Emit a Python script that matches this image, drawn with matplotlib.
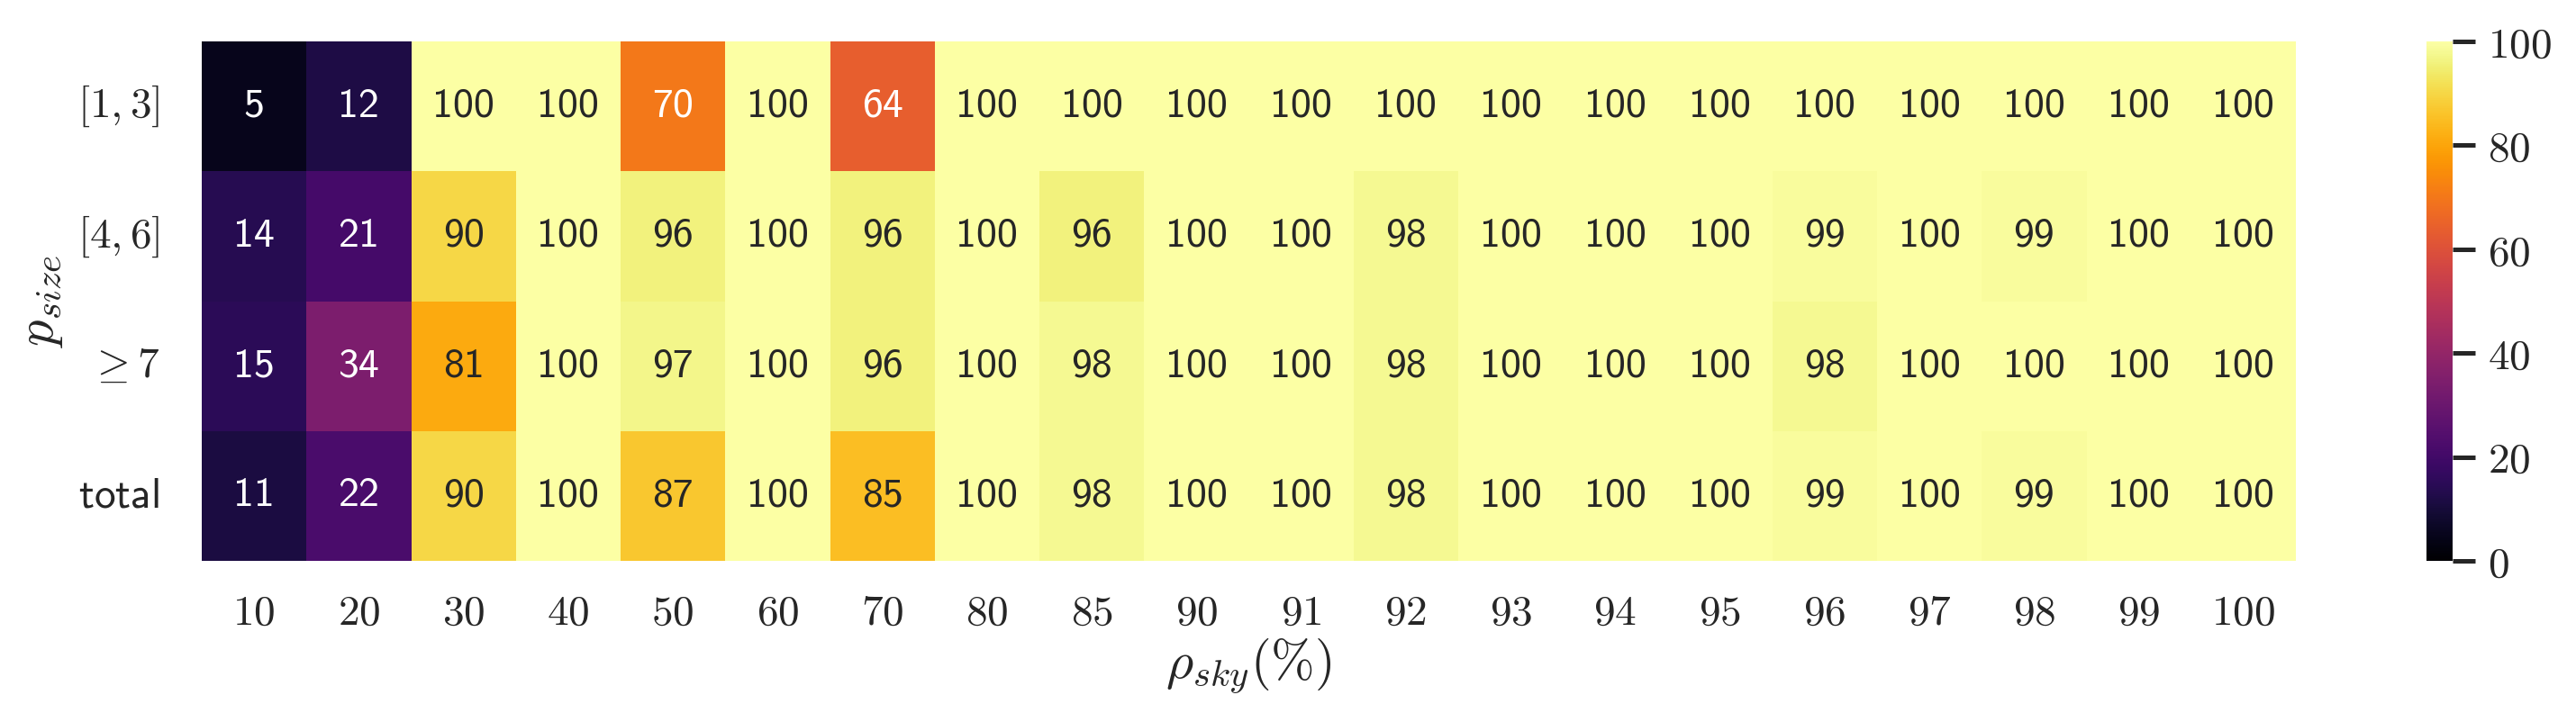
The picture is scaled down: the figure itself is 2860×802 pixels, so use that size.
import numpy as np
import matplotlib
matplotlib.use("Agg")
import matplotlib.pyplot as plt
import seaborn as sns

sns.set_theme(style="white")
plt.rcParams['mathtext.fontset'] = 'cm'
plt.rcParams['font.family'] = ['DejaVu Sans']

x_labels = ["10", "20", "30", "40", "50", "60", "70", "80", "85", "90",
            "91", "92", "93", "94", "95", "96", "97", "98", "99", "100"]
y_labels = [r"$[1,3]$", r"$[4,6]$", r"$\geq 7$", r"$\mathsf{total}$"]

row_1_3 = [5, 12, 100, 100, 70, 100, 64, 100, 100, 100, 100, 100, 100, 100, 100, 100, 100, 100, 100, 100]
row_4_6 = [14, 21, 90, 100, 96, 100, 96, 100, 96, 100, 100, 98, 100, 100, 100, 99, 100, 99, 100, 100]
row_ge7 = [15, 34, 81, 100, 97, 100, 96, 100, 98, 100, 100, 98, 100, 100, 100, 98, 100, 100, 100, 100]
row_total = [11, 22, 90, 100, 87, 100, 85, 100, 98, 100, 100, 98, 100, 100, 100, 99, 100, 99, 100, 100]

data = np.array([row_1_3, row_4_6, row_ge7, row_total], dtype=float)

W, H = 2860, 802
fig = plt.figure(figsize=(W / 200, H / 200), dpi=200)
ax = fig.add_axes([224 / W, 1 - 623 / H, (2549 - 224) / W, 577 / H])
cax = fig.add_axes([2694 / W, 1 - 623 / H, 29 / W, 577 / H])

fs = 17
sns.heatmap(data, ax=ax, cbar_ax=cax, cmap="inferno", vmin=0, vmax=100,
            annot=True, fmt=".0f", annot_kws={"fontsize": 16.5, "family": "cmss10"},
            xticklabels=[r"$%s$" % s for s in x_labels], yticklabels=y_labels)

ax.tick_params(axis='both', length=0, labelsize=fs, colors="#262626")
ax.tick_params(axis='x', pad=13)
ax.tick_params(axis='y', pad=17)
ax.set_yticklabels(y_labels, rotation=0)
ax.set_xticklabels([r"$%s$" % s for s in x_labels], rotation=0)
ax.set_xlabel(r"$\rho_{sky}(\%)$", fontsize=21, color="#262626", labelpad=1)
ax.set_ylabel(r"$p_{size}$", fontsize=21, color="#262626", labelpad=5)

cax.set_yticks([0, 20, 40, 60, 80, 100])
cax.set_yticklabels([r"$%d$" % v for v in [0, 20, 40, 60, 80, 100]])
cax.tick_params(axis='y', right=True, length=9, width=1.8, labelsize=fs, colors="#262626", pad=5)
for s in cax.spines.values():
    s.set_visible(False)

fig.savefig("out.png", dpi=200, facecolor="white")
